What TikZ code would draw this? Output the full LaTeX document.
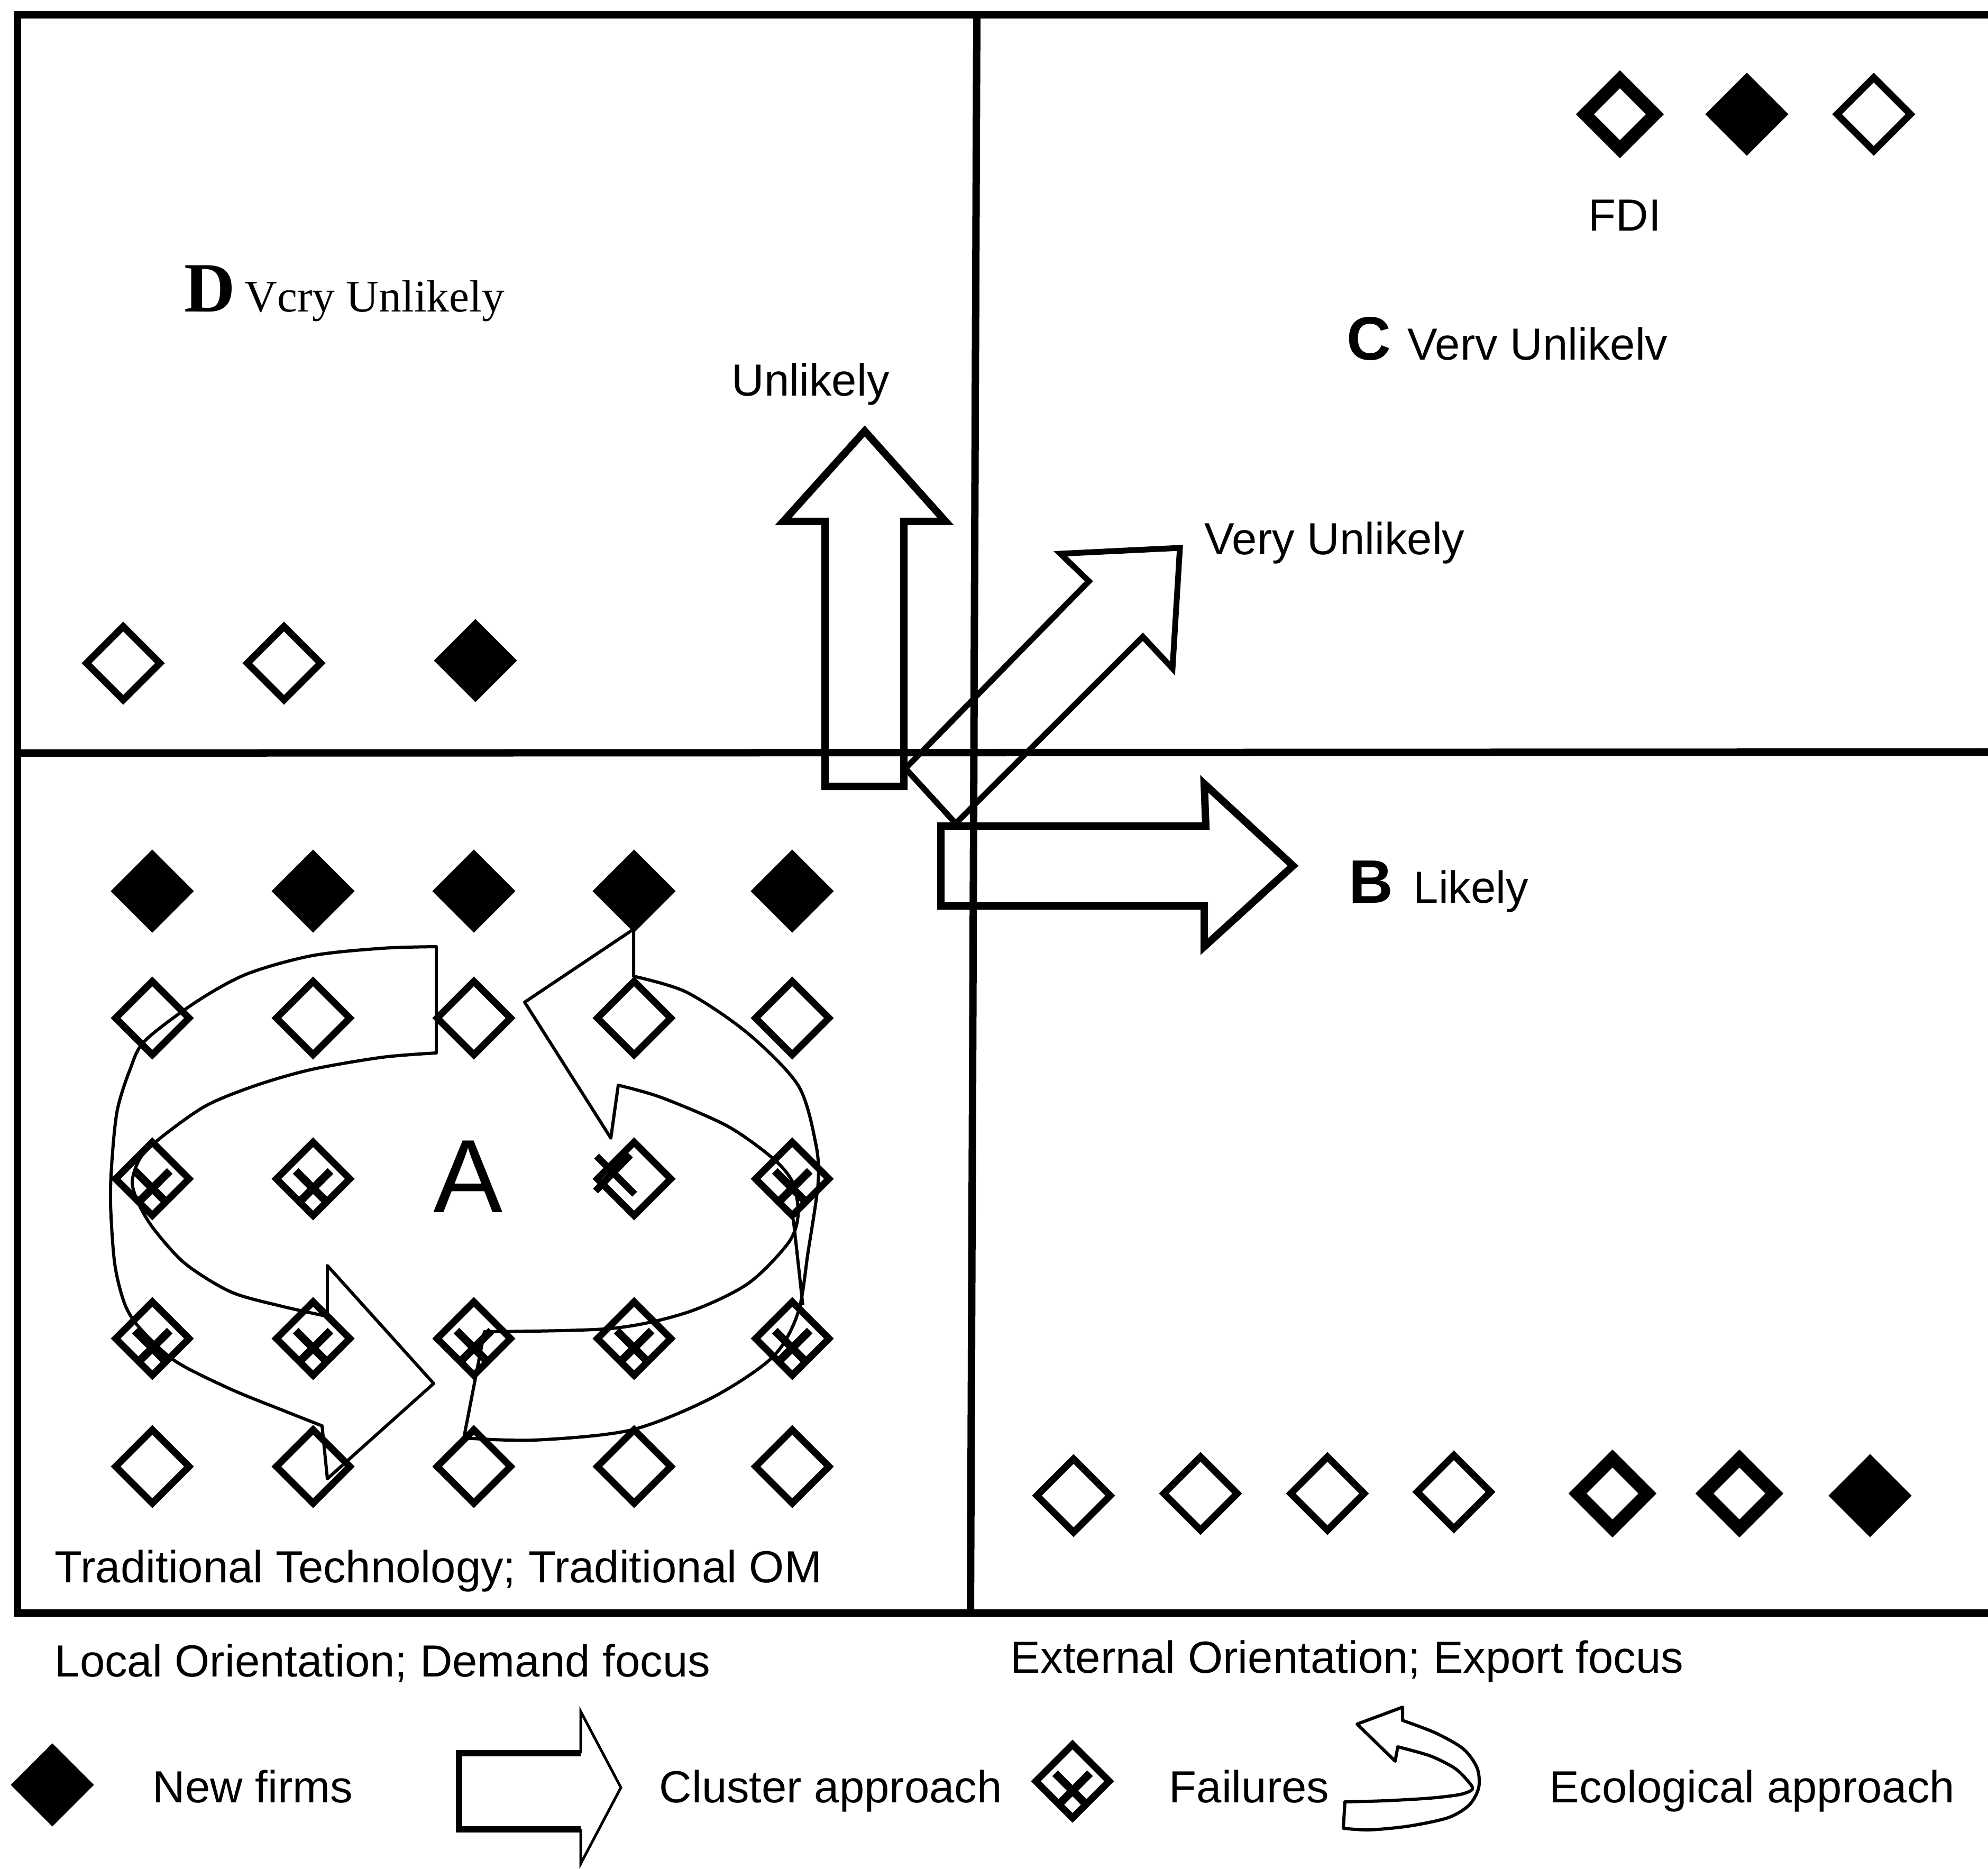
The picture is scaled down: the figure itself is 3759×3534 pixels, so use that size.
\documentclass[tikz,border=0pt]{standalone}
\usepackage{fontspec}
\setmainfont{Liberation Sans}
\newfontfamily\serifface{Liberation Serif}
\usetikzlibrary{shapes.geometric}

\begin{document}
\begin{tikzpicture}[x=0.01cm,y=-0.01cm,
  frame/.style={line width=0.14cm, line cap=butt},
  firm/.style={shape=diamond, aspect=1, inner sep=0pt, draw, line width=0.13cm,
               minimum width=1.44cm, minimum height=1.44cm},
  newfirm/.style={firm, fill=black},
  boldfirm/.style={firm, line width=0.24cm, minimum width=1.42cm, minimum height=1.42cm},
  failed/.style={firm, path picture={
      \draw[line width=0.15cm]
        ([shift={(-33,-15)}]path picture bounding box.center) --
        ([shift={(38,56)}]path picture bounding box.center);
      \draw[line width=0.15cm]
        ([shift={(33,-15)}]path picture bounding box.center) --
        ([shift={(-38,56)}]path picture bounding box.center);}},
  ring/.style={line width=0.06cm, line join=round},
  block/.style={line width=0.14cm, line join=miter},
  txt/.style={font=\fontsize{24.2pt}{29pt}\selectfont, inner sep=0pt, anchor=base west},
  bigletter/.style={font=\fontsize{33pt}{38pt}\selectfont\bfseries, inner sep=0pt, anchor=base west},
]
\useasboundingbox (0,0) rectangle (3759,3534);

% quadrant frame
\draw[frame] (3759,28) -- (33,28) -- (33,3050) -- (3759,3050);
\draw[frame] (33,1424) -- (3759,1422);
\draw[frame] (1847,28) -- (1835,3050);

% quadrant D
\node[firm] (d1) at (233,1254) {};
\node[firm] (d2) at (537,1254) {};
\node[newfirm] (d3) at (899,1249) {};

% quadrant C (FDI)
\node[boldfirm] (c1) at (3063,216) {};
\node[newfirm] (c2) at (3303,216) {};
\node[firm] (c3) at (3543,216) {};

% quadrant B
\node[firm] (b1) at (2030,2828) {};
\node[firm] (b2) at (2270,2824) {};
\node[firm] (b3) at (2510,2824) {};
\node[firm] (b4) at (2749,2821) {};
\node[boldfirm] (b5) at (3049,2824) {};
\node[boldfirm] (b6) at (3289,2824) {};
\node[newfirm] (b7) at (3536,2828) {};

% quadrant A grid
\foreach \cx [count=\i] in {288,592,896,1199,1498} {
  \node[newfirm] (a1\i) at (\cx,1685) {};
  \node[firm] (a2\i) at (\cx,1925) {};
  \node[failed] (a4\i) at (\cx,2531) {};
  \node[firm] (a5\i) at (\cx,2773) {};
}
\node[failed] (a31) at (288,2229) {};
\node[failed] (a32) at (592,2229) {};
\node[firm] (a34) at (1199,2229) {};
\node[failed] (a35) at (1498,2229) {};
\draw[line width=0.13cm] (1128,2186) -- (1200,2258);
\draw[line width=0.13cm] (1192,2184) -- (1126,2252);

% ecological ring: left band
\draw[ring] (825,1790) -- (825,1991)
  -- plot[smooth] coordinates {(825,1991) (724,1999) (590,2022) (485,2052) (389,2091)
     (303,2152) (265,2190) (250,2236) (265,2282) (294,2328) (351,2390) (437,2443)
     (533,2470) (619,2489)}
  -- (619,2393) -- (820,2616) -- (619,2796) -- (609,2696)
  -- plot[smooth] coordinates {(609,2696) (533,2666) (437,2627) (332,2574) (265,2512)
     (236,2466) (217,2390) (209,2275) (212,2190) (222,2098) (246,2022) (274,1968)
     (370,1895) (466,1842) (590,1807) (724,1793) (825,1790)}
  -- cycle;

% ecological ring: right band
\draw[ring] (916,2518)
  -- plot[smooth] coordinates {(916,2518) (1155,2512) (1298,2482) (1413,2428) (1490,2351)
     (1509,2298) (1499,2236) (1461,2190) (1375,2129) (1250,2075) (1169,2052)}
  -- (1155,2152) -- (992,1895) -- (1198,1757) -- (1198,1846)
  -- plot[smooth] coordinates {(1198,1846) (1298,1876) (1413,1953) (1509,2052) (1542,2160)
     (1547,2236) (1528,2367) (1509,2482) (1461,2566) (1346,2643) (1193,2704)
     (1011,2723) (877,2719)}
  -- cycle;
% fold of the right band
\draw[ring] (1500,2305) -- (1518,2468);

% cluster arrows
\draw[block] (1560,1487) -- (1560,986) -- (1481,986) -- (1635,815) -- (1788,986)
  -- (1709,986) -- (1709,1487) -- cycle;
\draw[block, line width=0.11cm] (1712,1453) -- (2059,1099) -- (2005,1047) -- (2231,1036)
  -- (2217,1264) -- (2161,1204) -- (1807,1557) -- cycle;
\draw[block] (1779,1562) -- (2280,1562) -- (2277,1482) -- (2445,1637) -- (2277,1790)
  -- (2277,1713) -- (1779,1713) -- cycle;

% quadrant labels
\node[anchor=base west, inner sep=0pt, font=\serifface\bfseries\fontsize{38pt}{44pt}\selectfont] (dl) at (348,590) {D};
\node[anchor=base west, inner sep=0pt, font=\serifface\fontsize{24.3pt}{29pt}\selectfont] (dt) at (462,590) {Vcry Unlikely};
\node[txt] (up) at (1383,749) {Unlikely};
\node[txt] (diag) at (2277,1049) {Very Unlikely};
\node[txt] (fdi) at (3003,437) {FDI};
\node[bigletter] (cl) at (2546,681) {C};
\node[txt] (ct) at (2661,681) {Verv Unlikelv};
\node[bigletter] (bl) at (2550,1707) {B};
\node[txt] (bt) at (2672,1707) {Likely};
\node[anchor=base, inner sep=0pt, font=\fontsize{56pt}{64pt}\selectfont] (al) at (885,2292) {A};
\node[txt] (at) at (103,2992) {Traditional Technology; Traditional OM};

% axis captions
\node[txt] (loc) at (103,3170) {Local Orientation; Demand focus};
\node[txt] (ext) at (1910,3163) {External Orientation; Export focus};

% legend
\node[newfirm] (kn) at (99,3375) {};
\node[txt] (kntxt) at (288,3408) {New firms};
\draw[line width=0.12cm, line join=miter] (1098,3315) -- (868,3315) -- (868,3459) -- (1098,3459);
\draw[line width=0.05cm, line join=miter] (1098,3315) -- (1098,3236) -- (1174,3380) -- (1098,3524) -- (1098,3459);
\node[txt] (kctxt) at (1246,3408) {Cluster approach};
\node[failed] (kf) at (2028,3368) {};
\node[txt] (kftxt) at (2210,3408) {Failures};
\draw[ring] (2543,3407)
  -- plot[smooth] coordinates {(2543,3407) (2618,3405) (2704,3400) (2761,3393) (2784,3383)
     (2775,3367) (2750,3343) (2704,3320) (2643,3303)}
  -- (2638,3330) -- (2566,3260) -- (2652,3228) -- (2652,3253)
  -- plot[smooth] coordinates {(2652,3253) (2715,3277) (2767,3307) (2793,3343) (2796,3380)
     (2778,3413) (2738,3437) (2663,3453) (2589,3460) (2540,3457)}
  -- cycle;
\node[txt] (ketxt) at (2929,3408) {Ecological approach};
\end{tikzpicture}
\end{document}
